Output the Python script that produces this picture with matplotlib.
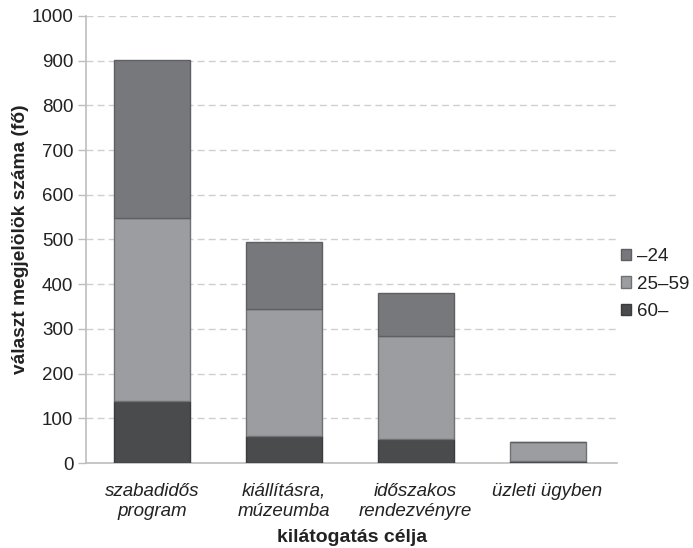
import numpy as np
import matplotlib
matplotlib.use("Agg")
from matplotlib import pyplot as plt

plt.rcParams['font.family'] = ['Liberation Sans', 'DejaVu Sans']

# adatok
kategoriak = ["szabadidős\nprogram", "kiállításra,\nmúzeumba", "időszakos\nrendezvényre", "üzleti ügyben"]
kor_60 = [138, 61, 54, 4]
kor_25_59 = [409, 284, 230, 42]
kor_24 = [354, 149, 97, 2]

szin_60 = "#4a4b4d"
szin_25 = "#9c9da0"
szin_24 = "#77787b"

fig = plt.figure(figsize=(6.93, 5.48), dpi=100)
ax = fig.add_axes([0.124, 0.155, 0.767, 0.816])

x = np.arange(len(kategoriak))
w = 0.576
also = np.array(kor_60)
kozep = also + np.array(kor_25_59)

b1 = ax.bar(x, kor_60, w, color=szin_60, edgecolor="#3a3b3d", linewidth=1, label="60–", zorder=3)
b2 = ax.bar(x, kor_25_59, w, bottom=also, color=szin_25, edgecolor="#707174", linewidth=1, label="25–59", zorder=3)
b3 = ax.bar(x, kor_24, w, bottom=kozep, color=szin_24, edgecolor="#5e5f62", linewidth=1, label="–24", zorder=3)

ax.set_ylim(0, 1000)
ax.set_xlim(-0.5, 3.53)
ax.set_yticks(range(0, 1001, 100))
ax.yaxis.grid(True, linestyle=(0, (5, 3)), color="#cfcfcf", linewidth=1, zorder=0)
ax.set_axisbelow(True)

for s in ["top", "right"]:
    ax.spines[s].set_visible(False)
ax.spines["left"].set_color("#bdbdbd")
ax.spines["bottom"].set_color("#bdbdbd")
ax.spines["left"].set_linewidth(1.2)
ax.spines["bottom"].set_linewidth(1.2)

ax.tick_params(axis="y", colors="#bdbdbd", length=6, width=1, labelcolor="#222222", labelsize=13.5, pad=3)
ax.tick_params(axis="x", length=0, labelsize=13.5, labelcolor="#222222", pad=14)
ax.set_xticks(x)
ax.set_xticklabels(kategoriak, style="italic", linespacing=1.3)

ax.set_ylabel("választ megjelölök száma (fő)", fontsize=13.8, fontweight="bold", color="#222222", labelpad=2)
ax.set_xlabel("kilátogatás célja", fontsize=14, fontweight="bold", color="#222222", labelpad=6)

leg = ax.legend(handles=[b3, b2, b1], loc="center left", bbox_to_anchor=(0.985, 0.40),
                frameon=False, fontsize=13.5, handlelength=0.55, handleheight=0.55,
                handletextpad=0.3, labelspacing=0.55, labelcolor="#222222",
                borderaxespad=0.2)

fig.savefig("out.png", dpi=100)
